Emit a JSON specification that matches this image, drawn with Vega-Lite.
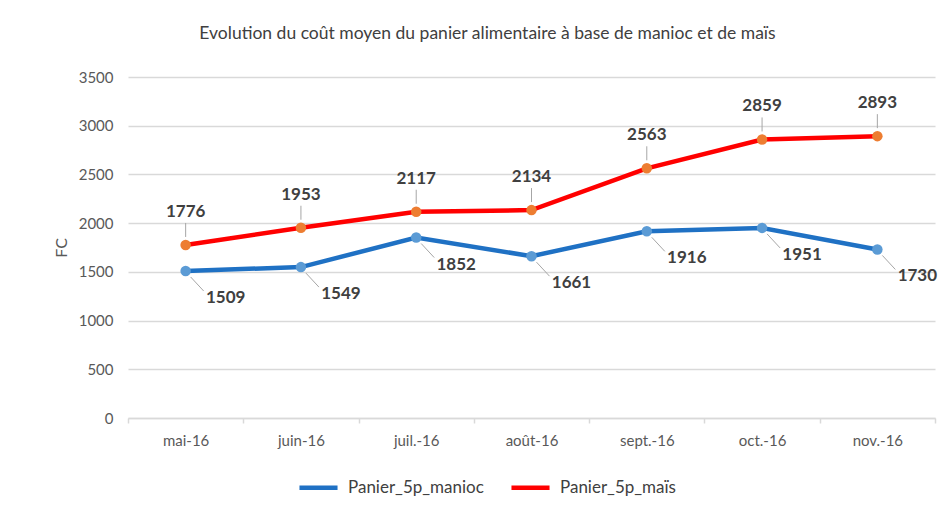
{
  "$schema": "https://vega.github.io/schema/vega-lite/v6.json",
  "width": 807,
  "height": 341,
  "autosize": {"type": "none"},
  "padding": {"left": 128, "top": 77, "right": 7, "bottom": 94},
  "background": "white",
  "title": {"text": "Evolution du coût moyen du panier alimentaire à base de manioc et de maïs", "font": "Lato", "fontSize": 17.5, "fontWeight": "normal", "color": "#404040", "offset": 28, "dx": -44},
  "config": {"view": {"stroke": null}, "font": "Lato"},
  "data": {"values": [
    {"month": "mai-16", "series": "Panier_5p_manioc", "value": 1509},
    {"month": "juin-16", "series": "Panier_5p_manioc", "value": 1549},
    {"month": "juil.-16", "series": "Panier_5p_manioc", "value": 1852},
    {"month": "août-16", "series": "Panier_5p_manioc", "value": 1661},
    {"month": "sept.-16", "series": "Panier_5p_manioc", "value": 1916},
    {"month": "oct.-16", "series": "Panier_5p_manioc", "value": 1951},
    {"month": "nov.-16", "series": "Panier_5p_manioc", "value": 1730},
    {"month": "mai-16", "series": "Panier_5p_maïs", "value": 1776},
    {"month": "juin-16", "series": "Panier_5p_maïs", "value": 1953},
    {"month": "juil.-16", "series": "Panier_5p_maïs", "value": 2117},
    {"month": "août-16", "series": "Panier_5p_maïs", "value": 2134},
    {"month": "sept.-16", "series": "Panier_5p_maïs", "value": 2563},
    {"month": "oct.-16", "series": "Panier_5p_maïs", "value": 2859},
    {"month": "nov.-16", "series": "Panier_5p_maïs", "value": 2893}
  ]},
  "encoding": {
    "x": {"field": "month", "type": "ordinal", "bandPosition": 0.5, "sort": ["mai-16", "juin-16", "juil.-16", "août-16", "sept.-16", "oct.-16", "nov.-16"],
      "scale": {"type": "band", "paddingInner": 0, "paddingOuter": 0},
      "axis": {"title": null, "labelAngle": 0, "labelFont": "Lato", "labelFontSize": 15, "labelColor": "#595959", "labelPadding": 10, "domainColor": "#d9d9d9", "domainWidth": 1.5, "ticks": true, "tickBand": "extent", "tickColor": "#d9d9d9", "tickSize": 5, "tickWidth": 1.5, "grid": false}},
    "y": {"field": "value", "type": "quantitative", "scale": {"domain": [0, 3500], "nice": false},
      "axis": {"title": "FC", "format": "d", "values": [0, 500, 1000, 1500, 2000, 2500, 3000, 3500], "labelFont": "Lato", "labelFontSize": 15, "labelColor": "#595959", "labelPadding": 15, "titleFont": "Lato", "titleFontSize": 16, "titleFontWeight": "normal", "titleColor": "#595959", "titlePadding": 9, "domain": false, "ticks": false, "gridColor": "#d9d9d9", "gridWidth": 1.5}}
  },
  "layer": [
    {"mark": {"type": "rule", "color": "#a6a6a6", "strokeWidth": 1, "yOffset": -8, "y2Offset": -22},
     "transform": [{"filter": "datum.series === 'Panier_5p_maïs'"}],
     "encoding": {"x2": {"field": "month", "bandPosition": 0.5}, "y2": {"field": "value"}}},
    {"mark": {"type": "rule", "color": "#a6a6a6", "strokeWidth": 1, "xOffset": 5, "yOffset": 6, "x2Offset": 18, "y2Offset": 20},
     "transform": [{"filter": "datum.series === 'Panier_5p_manioc'"}],
     "encoding": {"x2": {"field": "month", "bandPosition": 0.5}, "y2": {"field": "value"}}},
    {"mark": {"type": "line", "strokeWidth": 4.5},
     "encoding": {"color": {"field": "series", "type": "nominal", "scale": {"domain": ["Panier_5p_manioc", "Panier_5p_maïs"], "range": ["#1f71c4", "#ff0000"]},
       "legend": {"title": null, "orient": "none", "direction": "horizontal", "legendX": 169, "legendY": 389, "symbolType": "stroke", "symbolStrokeWidth": 4.5, "symbolSize": 1450, "labelFont": "Lato", "labelFontSize": 17, "labelColor": "#404040", "labelOffset": 8, "columnPadding": 18}}}},
    {"mark": {"type": "point", "filled": true, "size": 110, "opacity": 1},
     "encoding": {"fill": {"field": "series", "type": "nominal", "scale": {"domain": ["Panier_5p_manioc", "Panier_5p_maïs"], "range": ["#5b9bd5", "#ed7d31"]}, "legend": null}}},
    {"mark": {"type": "text", "font": "Lato", "fontSize": 17, "fontWeight": "bold", "color": "#404040", "dy": -33, "baseline": "middle"},
     "transform": [{"filter": "datum.series === 'Panier_5p_maïs'"}],
     "encoding": {"text": {"field": "value", "type": "quantitative", "format": "d"}}},
    {"mark": {"type": "text", "font": "Lato", "fontSize": 17, "fontWeight": "bold", "color": "#404040", "dx": 40, "dy": 27, "baseline": "middle"},
     "transform": [{"filter": "datum.series === 'Panier_5p_manioc'"}],
     "encoding": {"text": {"field": "value", "type": "quantitative", "format": "d"}}}
  ]
}
